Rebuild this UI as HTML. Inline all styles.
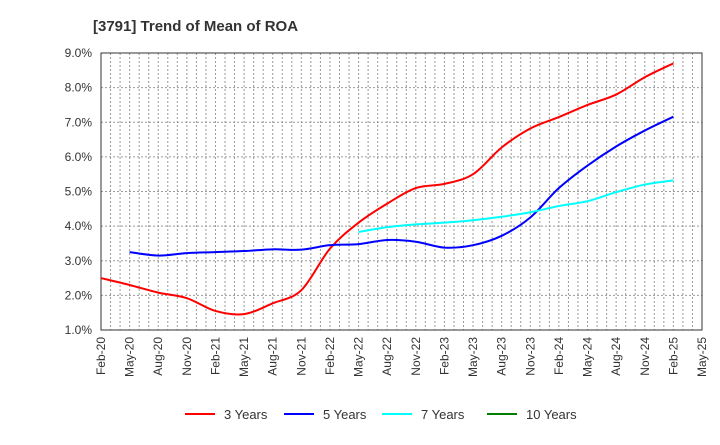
<!DOCTYPE html>
<html><head><meta charset="utf-8"><style>
body{margin:0;background:#fff;font-family:"Liberation Sans",Arial,sans-serif}
</style></head><body>
<svg id="chart" width="720" height="440" xmlns="http://www.w3.org/2000/svg">
<text x="93" y="31" font-size="15" font-weight="bold" fill="#333">[3791]  Trend of Mean of ROA</text>
<g id="grid"></g>
<g id="axes"></g>
<g id="series"></g>
<g id="legend"></g>
</svg>
<script>
const xLabels=["Feb-20","May-20","Aug-20","Nov-20","Feb-21","May-21","Aug-21","Nov-21","Feb-22","May-22","Aug-22","Nov-22","Feb-23","May-23","Aug-23","Nov-23","Feb-24","May-24","Aug-24","Nov-24","Feb-25","May-25"];
const yTicks=[1,2,3,4,5,6,7,8,9];
const y3=[2.5,2.3,2.08,1.92,1.55,1.46,1.77,2.15,3.35,4.1,4.65,5.1,5.22,5.5,6.27,6.82,7.15,7.5,7.8,8.3,8.7];
const y5=[null,3.25,3.15,3.22,3.25,3.28,3.33,3.32,3.45,3.48,3.6,3.55,3.38,3.45,3.72,4.25,5.1,5.75,6.3,6.76,7.16];
const y7=[null,null,null,null,null,null,null,null,null,3.83,3.97,4.05,4.1,4.17,4.27,4.4,4.58,4.72,4.98,5.2,5.32];
const y10=[];
const L=101,R=702,T=53,B=330,NS="http://www.w3.org/2000/svg";
const xq=i=>L+i*(R-L)/21;
const yv=v=>B-(v-1)*(B-T)/8;
function mk(tag,attrs,parent,txt){const e=document.createElementNS(NS,tag);for(const k in attrs)e.setAttribute(k,attrs[k]);if(txt!==undefined)e.textContent=txt;document.getElementById(parent).appendChild(e);return e;}
for(let m=1;m<63;m++){const x=L+m*(R-L)/63;const e=mk('line',{x1:x,x2:x,y1:T,y2:B,stroke:'#999','stroke-dasharray':'2,2','stroke-width':1},'grid');

}
yTicks.forEach(v=>{const y=yv(v);const g=mk('line',{x1:L,x2:R,y1:y,y2:y,stroke:'#999','stroke-dasharray':'2,2','stroke-width':1},'grid');


const t=mk('text',{x:92,y:y+4,'font-size':12,fill:'#333','text-anchor':'end'},'axes',v.toFixed(1)+'%');

});
xLabels.forEach((s,i)=>{const x=xq(i);const t=mk('text',{x:0,y:0,'font-size':12,fill:'#333','text-anchor':'end',transform:`translate(${x+4},337) rotate(-90)`},'axes',s);

});
const fr=mk('rect',{x:L,y:T,width:R-L,height:B-T,fill:'none',stroke:'#333','stroke-width':1},'axes');


function pathFor(arr){const p=[];arr.forEach((v,i)=>{if(v!=null)p.push([xq(i),yv(v)]);});if(p.length<2)return '';
let d=`M${p[0][0]},${p[0][1]}`;for(let i=0;i<p.length-1;i++){const p0=p[i-1]||p[i],p1=p[i],p2=p[i+1],p3=p[i+2]||p2;
d+=` C${p1[0]+(p2[0]-p0[0])/6},${p1[1]+(p2[1]-p0[1])/6} ${p2[0]-(p3[0]-p1[0])/6},${p2[1]-(p3[1]-p1[1])/6} ${p2[0]},${p2[1]}`;}return d;}
[[y3,'#ff0000','line-3-years'],[y5,'#0000ff','line-5-years'],[y7,'#00ffff','line-7-years'],[y10,'#008000','line-10-years']].forEach(([a,c,n])=>{const d=pathFor(a);if(!d)return;
const e=mk('path',{d:d,fill:'none',stroke:c,'stroke-width':2},'series');

});
[['3 Years','#ff0000',185],['5 Years','#0000ff',284],['7 Years','#00ffff',382],['10 Years','#008000',487]].forEach(([s,c,x])=>{
const l=mk('line',{x1:x,x2:x+30,y1:414,y2:414,stroke:c,'stroke-width':2},'legend');


const t=mk('text',{x:x+39,y:419,'font-size':13,fill:'#333'},'legend',s);

});
</script>
</body></html>
